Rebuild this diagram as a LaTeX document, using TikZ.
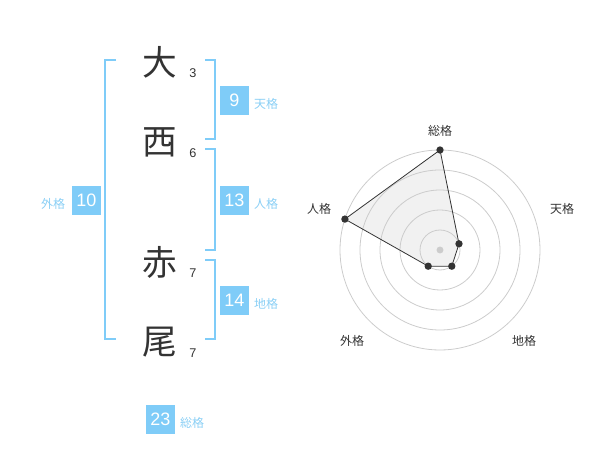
\documentclass[tikz,border=0pt]{standalone}
\usepackage{fontspec}
\setmainfont{Liberation Sans}
\newfontfamily\cjk{Noto Sans CJK JP}
\definecolor{boxblue}{HTML}{7FCCF8}
\definecolor{lblblue}{HTML}{8ACFF5}
\definecolor{ink}{HTML}{333333}
\definecolor{ring}{HTML}{CCCCCC}
\definecolor{polyfill}{HTML}{F1F1F1}
\begin{document}
\begin{tikzpicture}[x=0.75pt,y=-0.75pt,
  bigchar/.style={inner sep=0pt,text=ink,font=\cjk\fontsize{26}{26}\selectfont},
  strokes/.style={inner sep=0pt,text=ink,font=\fontsize{9.5}{10}\selectfont},
  valbox/.style={fill=boxblue,text=white,minimum width=21.75pt,minimum height=21.75pt,inner sep=0pt,font=\fontsize{13.5}{14}\selectfont},
  kaku/.style={inner sep=0pt,text=lblblue,font=\cjk\fontsize{9}{10}\selectfont},
  bracket/.style={draw=boxblue,line width=1.5pt},
  axislbl/.style={inner sep=0pt,text=ink,font=\cjk\fontsize{9}{10}\selectfont},
  dot/.style={circle,fill=ink,inner sep=0pt,minimum size=5.5pt},
]
\useasboundingbox (0,0) rectangle (600,470);
% characters
\node[bigchar] (c1) at (160,62) {大};
\node[bigchar] (c2) at (160,142) {西};
\node[bigchar] (c3) at (160,262) {赤};
\node[bigchar] (c4) at (160,342) {尾};
\node[strokes] (s1) at (193,73) {3};
\node[strokes] (s2) at (193,153) {6};
\node[strokes] (s3) at (193,273) {7};
\node[strokes] (s4) at (193,353) {7};
% brackets
\draw[bracket] (116,60) -- (105,60) -- (105,339.5) -- (116,339.5);
\draw[bracket] (205,60) -- (214.5,60) -- (214.5,139.5) -- (205,139.5);
\draw[bracket] (205,149.5) -- (214.5,149.5) -- (214.5,250) -- (205,250);
\draw[bracket] (205,260) -- (214.5,260) -- (214.5,339.5) -- (205,339.5);
% values
\node[valbox] (v1) at (234.5,100.5) {9};
\node[kaku] (k1) at (266,104) {天格};
\node[valbox] (v2) at (234.5,200.5) {13};
\node[kaku] (k2) at (266,204) {人格};
\node[valbox] (v3) at (86.5,200.5) {10};
\node[kaku] (k3) at (53,204) {外格};
\node[valbox] (v4) at (234.5,300.5) {14};
\node[kaku] (k4) at (266,304) {地格};
\node[valbox] (v5) at (160.5,419.5) {23};
\node[kaku] (k5) at (192,423) {総格};
% radar
\coordinate (rc) at (440,250);
\coordinate (p1) at (440,150);
\coordinate (p2) at (459,243.8);
\coordinate (p3) at (451.8,266.2);
\coordinate (p4) at (428.2,266.2);
\coordinate (p5) at (344.9,219.1);
\fill[polyfill] (p1) -- (p2) -- (p3) -- (p4) -- (p5) -- cycle;
\foreach \r in {15,30,45,60,75} \draw[ring,line width=0.6pt] (rc) circle[radius=\r pt];
\fill[ring] (rc) circle[radius=2.6pt];
\draw[ink,line width=0.6pt] (p1) -- (p2) -- (p3) -- (p4) -- (p5) -- cycle;
\foreach \p in {p1,p2,p3,p4,p5} \node[dot] (d\p) at (\p) {};
\node[axislbl] (a1) at (440,131) {総格};
\node[axislbl] (a2) at (562,208.5) {天格};
\node[axislbl] (a3) at (524,341) {地格};
\node[axislbl] (a4) at (352,341) {外格};
\node[axislbl] (a5) at (319,208.5) {人格};
\end{tikzpicture}
\end{document}
